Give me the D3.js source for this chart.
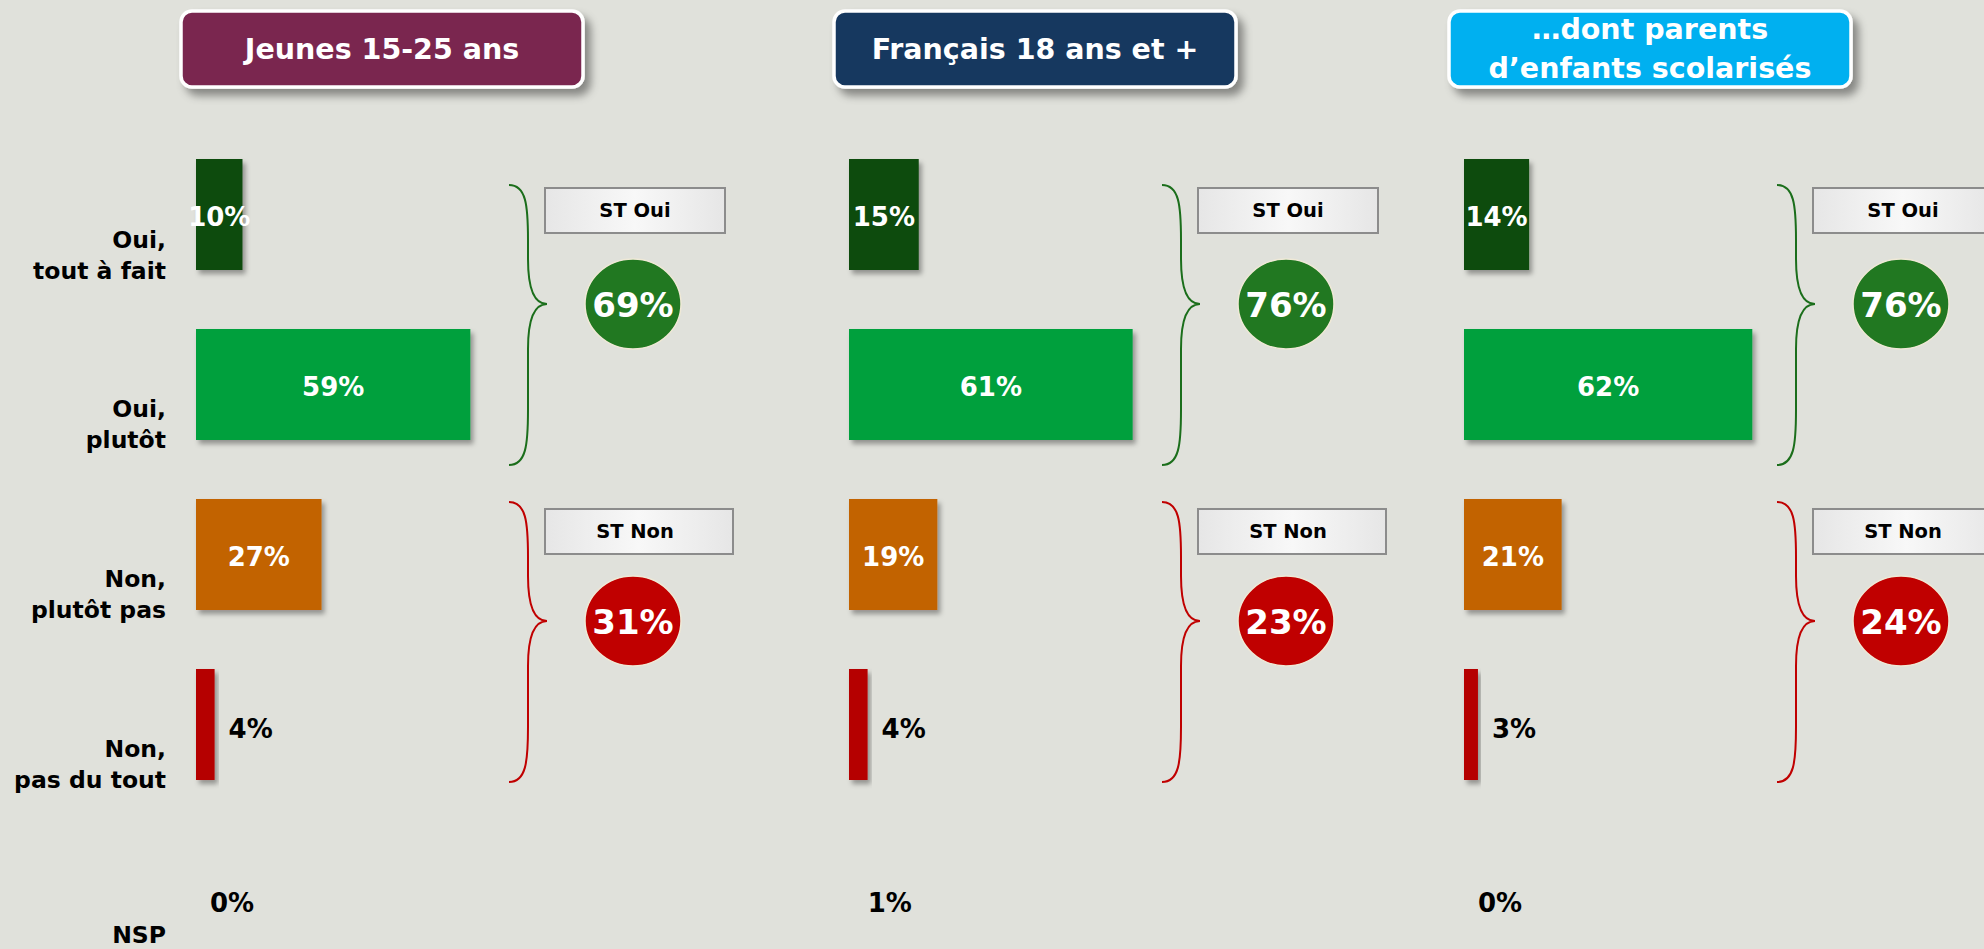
<!DOCTYPE html>
<html>
<head>
<meta charset="utf-8">
<script src="https://cdn.jsdelivr.net/npm/d3@7"></script>
<style>
  body { margin: 0; background: #e0e1db; overflow: hidden; }
  svg { display: block; font-family: 'DejaVu Sans', Verdana, sans-serif; font-weight: bold; }
</style>
</head>
<body>
<svg id="chart"></svg>
<script>
// answers (rows of every panel)
const categories = [['Oui,', 'tout à fait'], ['Oui,', 'plutôt'], ['Non,', 'plutôt pas'], ['Non,', 'pas du tout'], ['NSP']]
const panelTitles = [['Jeunes 15-25 ans'], ['Français 18 ans et +'], ['…dont parents', 'd’enfants scolarisés']]

// % per answer, one array per population
const jeunes = [10, 59, 27, 4, 0]
const francais = [15, 61, 19, 4, 1]
const parents = [14, 62, 21, 3, 0]

// sub totals
const subLabels = ['ST Oui', 'ST Non']
const stOui = [69, 76, 76]
const stNon = [31, 23, 24]

const series = [jeunes, francais, parents]

const width = 1984, height = 949
const barColors = ['#0e4b0e', '#00a03e', '#c26400', '#b50000', 'none'] // NSP has no visible bar
const titleColors = ['#7a2650', '#17375e', '#00b0f0']
const subColors = ['#217821', '#c00000']
const braceColors = ['#1b6e1b', '#c00000']
const panelX = [196, 849, 1464]

const svg = d3.select('#chart').attr('width', width).attr('height', height)

const defs = svg.append('defs')
const shadow = defs.append('filter').attr('id', 'shadow')
	.attr('x', '-20%').attr('y', '-20%').attr('width', '140%').attr('height', '150%')
shadow.append('feDropShadow').attr('dx', 3).attr('dy', 4).attr('stdDeviation', 2.5)
	.attr('flood-color', '#000').attr('flood-opacity', 0.35)
const shadow2 = defs.append('filter').attr('id', 'shadow2')
	.attr('x', '-10%').attr('y', '-20%').attr('width', '125%').attr('height', '160%')
shadow2.append('feDropShadow').attr('dx', 6).attr('dy', 7).attr('stdDeviation', 4)
	.attr('flood-color', '#000').attr('flood-opacity', 0.4)
const grad = defs.append('linearGradient').attr('id', 'boxgrad')
grad.append('stop').attr('offset', '0%').attr('stop-color', '#e6e6e6')
grad.append('stop').attr('offset', '50%').attr('stop-color', '#f8f8f8')
grad.append('stop').attr('offset', '100%').attr('stop-color', '#e6e6e6')

const x = d3.scaleLinear().domain([0, 100]).range([0, 465])
const y = d3.scaleBand().domain(d3.range(categories.length)).range([159, 950]).paddingInner(0.347).paddingOuter(0)
const bw = y.bandwidth()

// row labels on the left
const rowLabels = svg.append('g')
categories.forEach((lines, i) => {
	const cy = y(i) + 96
	const t = rowLabels.append('text')
		.attr('text-anchor', 'end')
		.style('font-size', '23.5px')
		.attr('fill', '#000')
	lines.forEach((l, k) => {
		t.append('tspan')
			.attr('x', 166)
			.attr('y', cy + (k - (lines.length - 1) / 2) * 31)
			.attr('dominant-baseline', 'central')
			.text(l)
	})
})

// brace: x0 = curl end, xs = spine, xt = tip
function brace(x0, xs, xt, y0, yt, y1) {
	return `M${x0},${y0} C${xs - 2},${y0} ${xs},${y0 + 20} ${xs},${y0 + 55}
		L${xs},${yt - 45} C${xs},${yt - 12} ${xs + 8},${yt} ${xt},${yt}
		C${xs + 8},${yt} ${xs},${yt + 12} ${xs},${yt + 45}
		L${xs},${y1 - 55} C${xs},${y1 - 20} ${xs - 2},${y1} ${x0},${y1}`
}

const groups = [
	{ rows: [0, 1], values: stOui, dTop: 26, dBot: 25, boxDy: 3, boxW: 180 },
	{ rows: [2, 3], values: stNon, dTop: 3, dBot: 2, boxDy: 7, boxW: 188 },
]

series.forEach((values, p) => {
	const g = svg.append('g').attr('transform', `translate(${panelX[p]},0)`)

	// title box
	const tb = g.append('g').attr('transform', `translate(${186 - 201},11)`)
	tb.append('rect')
		.attr('width', 402).attr('height', 76).attr('rx', 11)
		.attr('fill', titleColors[p])
		.attr('stroke', '#fff').attr('stroke-width', 3.5)
		.attr('filter', 'url(#shadow2)')
	const tl = panelTitles[p]
	tl.forEach((l, k) => {
		tb.append('text')
			.attr('x', 201)
			.attr('y', 38 + (k - (tl.length - 1) / 2) * 39)
			.attr('text-anchor', 'middle')
			.attr('dominant-baseline', 'central')
			.attr('fill', '#fff')
			.style('font-size', '28.5px')
			.text(l)
	})

	// bars
	g.selectAll('rect.bar')
		.data(values)
		.join('rect')
		.attr('class', 'bar')
		.attr('x', 0)
		.attr('y', (d, i) => y(i))
		.attr('width', d => x(d))
		.attr('height', bw)
		.attr('fill', (d, i) => barColors[i])
		.attr('filter', (d, i) => barColors[i] === 'none' ? null : 'url(#shadow)')

	g.selectAll('text.val')
		.data(values)
		.join('text')
		.attr('class', 'val')
		.attr('x', d => d >= 10 ? x(d) / 2 : x(d) + 14)
		.attr('y', (d, i) => y(i) + bw / 2 + (d >= 10 ? 2 : 5 + (i === 4 ? 4 : 0)))
		.attr('text-anchor', d => d >= 10 ? 'middle' : 'start')
		.attr('dominant-baseline', 'central')
		.attr('fill', d => d >= 10 ? '#fff' : '#000')
		.style('font-size', '26px')
		.text(d => d + '%')

	// sub totals
	groups.forEach((gr, j) => {
		const top = y(gr.rows[0]) + gr.dTop
		const bot = y(gr.rows[1]) + bw + gr.dBot
		const tipY = top + (bot - top) * 0.425
		g.append('path')
			.attr('d', brace(313, 332, 351, top, tipY, bot))
			.attr('fill', 'none')
			.attr('stroke', braceColors[j])
			.attr('stroke-width', 2)

		const bx = 349
		g.append('rect')
			.attr('x', bx).attr('y', top + gr.boxDy)
			.attr('width', gr.boxW).attr('height', 45)
			.attr('fill', 'url(#boxgrad)')
			.attr('stroke', '#8c8c8c').attr('stroke-width', 2)
		g.append('text')
			.attr('x', bx + 90).attr('y', top + gr.boxDy + 22.5)
			.attr('text-anchor', 'middle')
			.attr('dominant-baseline', 'central')
			.attr('fill', '#000')
			.style('font-size', '19.5px')
			.text(subLabels[j])

		g.append('ellipse')
			.attr('cx', 437).attr('cy', tipY)
			.attr('rx', 48).attr('ry', 45)
			.attr('fill', subColors[j])
			.attr('stroke', '#efe9d6').attr('stroke-width', 1.5)
		g.append('text')
			.attr('x', 437).attr('y', tipY + 1)
			.attr('text-anchor', 'middle')
			.attr('dominant-baseline', 'central')
			.attr('fill', '#fff')
			.style('font-size', '34px')
			.text(gr.values[p] + '%')
	})
})
</script>
</body>
</html>
